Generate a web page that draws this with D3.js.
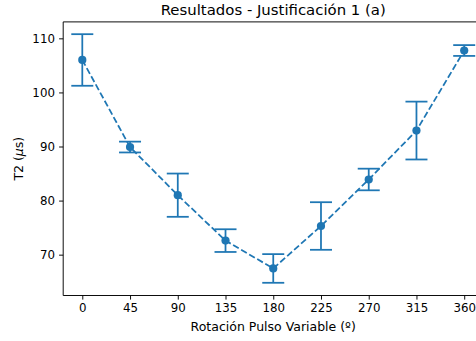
<!DOCTYPE html>
<html>
<head>
<meta charset="utf-8">
<script src="https://cdn.jsdelivr.net/npm/d3@7"></script>
<style>
  html, body { margin: 0; padding: 0; background: #ffffff; }
  svg { display: block; }
  text { font-family: "DejaVu Sans", sans-serif; fill: #000; }
</style>
</head>
<body>
<svg id="chart" width="476" height="341"></svg>
<script>
// Measured T2 per variable pulse rotation, with uncertainty
const angles = [0, 45, 90, 135, 180, 225, 270, 315, 360];
const t2 = [106.0, 89.9, 81.0, 72.6, 67.45, 75.3, 83.9, 92.95, 107.75];
const t2Err = [4.77, 1.0, 4.0, 2.1, 2.65, 4.4, 2.0, 5.35, 1.0];
const xTicks = [0, 45, 90, 135, 180, 225, 270, 315, 360];
const yTicks = [70, 80, 90, 100, 110];

const color = "#1f77b4";
const svg = d3.select("#chart");

const plotLeft = 63.2, plotRight = 483.3, plotTop = 21.9, plotBottom = 295.5;
const x = d3.scaleLinear().domain([-18, 378]).range([plotLeft, plotRight]);
const y = d3.scaleLinear().domain([62.45, 113.04]).range([plotBottom, plotTop]);

// axes frame (the right edge falls outside the canvas)
const frame = svg.append("g").attr("stroke", "#000").attr("stroke-width", 0.95).attr("fill", "none");
frame.append("line").attr("x1", plotLeft).attr("x2", plotLeft).attr("y1", plotTop).attr("y2", plotBottom);
frame.append("line").attr("x1", plotLeft).attr("x2", plotRight).attr("y1", plotBottom).attr("y2", plotBottom);
frame.append("line").attr("x1", plotLeft).attr("x2", plotRight).attr("y1", plotTop).attr("y2", plotTop);
frame.append("line").attr("x1", plotRight).attr("x2", plotRight).attr("y1", plotTop).attr("y2", plotBottom);

// x axis
const xAxis = d3.axisBottom(x).tickValues(xTicks).tickSize(4.1).tickPadding(4.2).tickFormat(d3.format("d"));
const gx = svg.append("g").attr("transform", `translate(0,${plotBottom})`).call(xAxis);
gx.select(".domain").remove();
gx.selectAll(".tick line").attr("stroke", "#000").attr("stroke-width", 0.95);
gx.selectAll(".tick text").attr("font-size", 11.8).attr("font-family", "DejaVu Sans").attr("fill", "#000");

// y axis
const yAxis = d3.axisLeft(y).tickValues(yTicks).tickSize(4.1).tickPadding(4.2).tickFormat(d3.format("d"));
const gy = svg.append("g").attr("transform", `translate(${plotLeft},0)`).call(yAxis);
gy.select(".domain").remove();
gy.selectAll(".tick line").attr("stroke", "#000").attr("stroke-width", 0.95);
gy.selectAll(".tick text").attr("font-size", 11.8).attr("font-family", "DejaVu Sans").attr("fill", "#000");

// error bars with caps
const capHalf = 11;
const bars = svg.append("g").attr("stroke", color).attr("stroke-width", 1.77).attr("fill", "none");
angles.forEach((a, i) => {
  const cx = x(a), hi = y(t2[i] + t2Err[i]), lo = y(t2[i] - t2Err[i]);
  bars.append("line").attr("x1", cx).attr("x2", cx).attr("y1", hi).attr("y2", lo);
  bars.append("line").attr("x1", cx - capHalf).attr("x2", cx + capHalf).attr("y1", hi).attr("y2", hi);
  bars.append("line").attr("x1", cx - capHalf).attr("x2", cx + capHalf).attr("y1", lo).attr("y2", lo);
});

// dashed connecting line
const line = d3.line().x((d, i) => x(angles[i])).y(d => y(d));
svg.append("path").datum(t2)
  .attr("d", line)
  .attr("fill", "none")
  .attr("stroke", color)
  .attr("stroke-width", 1.77)
  .attr("stroke-dasharray", "6.5,2.8");

// markers
svg.append("g").selectAll("circle").data(t2).join("circle")
  .attr("cx", (d, i) => x(angles[i]))
  .attr("cy", d => y(d))
  .attr("r", 4.1)
  .attr("fill", color);

// title and axis labels
svg.append("text")
  .attr("x", (plotLeft + plotRight) / 2).attr("y", 15)
  .attr("text-anchor", "middle").attr("font-size", 14.9)
  .text("Resultados - Justificación 1 (a)");

svg.append("text")
  .attr("x", (plotLeft + plotRight) / 2).attr("y", 331)
  .attr("text-anchor", "middle").attr("font-size", 12.5)
  .text("Rotación Pulso Variable (º)");

const yl = svg.append("text")
  .attr("transform", `translate(23,${(plotTop + plotBottom) / 2}) rotate(-90)`)
  .attr("text-anchor", "middle").attr("font-size", 12.5);
yl.append("tspan").text("T2 (");
yl.append("tspan").attr("font-style", "italic").text("μ");
yl.append("tspan").text("s)");
</script>
</body>
</html>
